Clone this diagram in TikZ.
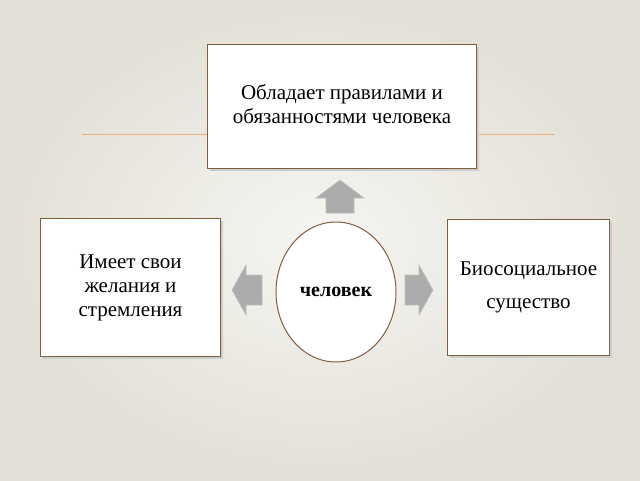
\documentclass[tikz,border=0pt]{standalone}
\usepackage{fontspec}
\usetikzlibrary{shapes.geometric}
\setmainfont{Liberation Serif}
\definecolor{bgout}{HTML}{E2E0D6}
\definecolor{bgin}{HTML}{F6F5F1}
\begin{document}
\begin{tikzpicture}[x=1pt,y=-1pt,
  box/.style={draw=brown!60!black!90,line width=1pt,fill=white,align=center,font=\fontsize{21}{24}\selectfont},
  barrow/.style={fill=gray!65,draw=gray!50,line width=0.6pt}]
\shade[inner color=bgin,outer color=bgout] (0,0) rectangle (640,480);
\useasboundingbox (0,0) rectangle (640,480);
\draw[orange!45!brown!60,line width=0.8pt] (82,134) -- (555,134);
\fill[gray!40] (210,47) rectangle (479,171);
\node[box,minimum width=269pt,minimum height=124pt,anchor=north west,text depth=6pt] (top) at (207,44) {Обладает правилами и\\обязанностями человека};
\fill[gray!40] (43,221) rectangle (223,359);
\node[box,minimum width=180pt,minimum height=138pt,anchor=north west] (left) at (40,218) {Имеет свои\\желания и\\стремления};
\fill[gray!40] (450,222) rectangle (612,358);
\node[box,minimum width=162pt,minimum height=136pt,anchor=north west,font=\fontsize{21}{33}\selectfont] (right) at (447,219) {Биосоциальное\\существо};
\node[box,ellipse,minimum width=120pt,minimum height=140pt,inner sep=0pt,font=\bfseries\fontsize{20}{24}\selectfont] (c) at (336,292) {человек};
\draw[barrow] (340,180) -- (364,198) -- (354,198) -- (354,213) -- (326,213) -- (326,198) -- (316,198) -- cycle;
\draw[barrow] (232,290) -- (246,265) -- (246,275) -- (262,275) -- (262,305) -- (246,305) -- (246,315) -- cycle;
\draw[barrow] (433,290) -- (419,265) -- (419,275) -- (405,275) -- (405,305) -- (419,305) -- (419,315) -- cycle;
\end{tikzpicture}
\end{document}
